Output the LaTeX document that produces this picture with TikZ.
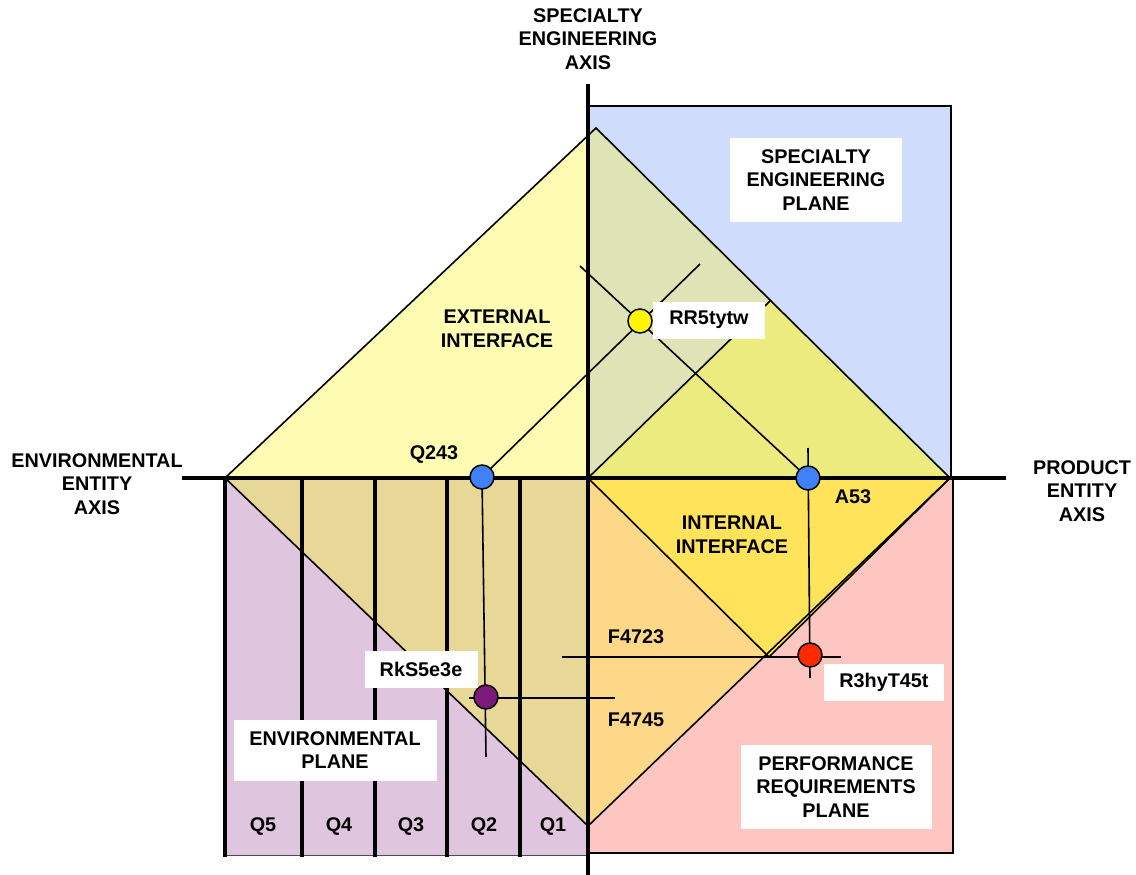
\documentclass[tikz,border=0pt]{standalone}
\usepackage{fontspec}
\setmainfont{Liberation Sans}
\definecolor{planeblue}{HTML}{CFDCFC}
\definecolor{planepink}{HTML}{FDC6C0}
\definecolor{planepurple}{HTML}{DFC6DE}
\definecolor{extlight}{HTML}{FEFBB2}
\definecolor{extgreen}{HTML}{DFE4B7}
\definecolor{exttan}{HTML}{E8D898}
\definecolor{extorange}{HTML}{FDD888}
\definecolor{intupper}{HTML}{EBEB7F}
\definecolor{intlower}{HTML}{FEE35B}
\definecolor{dotyellow}{HTML}{FFF700}
\definecolor{dotblue}{HTML}{4080F8}
\definecolor{dotred}{HTML}{FF2A00}
\definecolor{dotpurple}{HTML}{7B1A7A}
\begin{document}
\begin{tikzpicture}[x=1pt,y=-1pt,
  lbl/.style={font=\bfseries\fontsize{19.8}{23.5}\selectfont, align=center, inner sep=0pt},
  whitebox/.style={lbl, fill=white, minimum width=#1},
  axisline/.style={line width=3.5pt, line cap=butt},
  edge/.style={line width=1.6pt, line join=miter},
  crossline/.style={line width=1.6pt},
  dot/.style={circle, draw=black, line width=1.5pt, minimum size=24pt, inner sep=0pt}]
\useasboundingbox (0,0) rectangle (1136,875);

% corner points of the two interface diamonds
\coordinate (O) at (588,478);
\coordinate (dL) at (225,478);
\coordinate (dT) at (596,128);
\coordinate (dR) at (950,478);
\coordinate (dB) at (588,826);
\coordinate (iT) at (771,300);
\coordinate (iB) at (769,657);

% the three planes
\fill[planeblue] (588,106) rectangle (951,478);
\draw[line width=1.5pt] (588,106) -- (951,106) -- (951,478);
\fill[planepink] (588,478) rectangle (953,853);
\draw[line width=1.5pt] (953,478) -- (953,853) -- (588,853);
\fill[planepurple] (225,478) rectangle (588,855);
\draw[line width=1pt, black!70] (225,855) -- (588,855);

% external interface diamond, tinted by the plane underneath
\begin{scope}
  \clip (0,0) rectangle (588,478);
  \fill[extlight] (dL) -- (dT) -- (dR) -- (dB) -- cycle;
\end{scope}
\begin{scope}
  \clip (588,0) rectangle (1136,478);
  \fill[extgreen] (dL) -- (dT) -- (dR) -- (dB) -- cycle;
\end{scope}
\begin{scope}
  \clip (0,478) rectangle (588,875);
  \fill[exttan] (dL) -- (dT) -- (dR) -- (dB) -- cycle;
\end{scope}
\begin{scope}
  \clip (588,478) rectangle (1136,875);
  \fill[extorange] (dL) -- (dT) -- (dR) -- (dB) -- cycle;
\end{scope}

% internal interface diamond
\fill[intupper] (O) -- (iT) -- (dR) -- cycle;
\fill[intlower] (O) -- (dR) -- (iB) -- cycle;

\draw[edge] (dL) -- (dT) -- (dR) -- (dB) -- cycle;
\draw[edge] (O) -- (iT);
\draw[edge] (dR) -- (iB) -- (O);

% Q columns
\foreach \qx in {225,302,375,447,520}
  \draw[axisline] (\qx,478) -- (\qx,857);

% axes
\draw[axisline] (588,84) -- (588,875);
\draw[axisline] (182,478) -- (1006,478);

% crosshair lines through the points
\coordinate (cY) at (640,321);
\coordinate (cQ) at (482,477);
\coordinate (cA) at (808,478);
\coordinate (cR) at (810,655);
\coordinate (cP) at (486,697);
\coordinate (ylTop) at (580,266);
\coordinate (yrTop) at (700,264);
\coordinate (aTop) at (808,448);
\coordinate (aBot) at (810,678);
\coordinate (qBot) at (486,757);
\coordinate (rL) at (562,657);
\coordinate (rR) at (841,657);
\coordinate (pL) at (469,698);
\coordinate (pR) at (615,698);

\draw[crossline] (ylTop) -- (cA);
\draw[crossline] (yrTop) -- (cQ);
\draw[crossline] (aTop) -- (aBot);
\draw[crossline] (cQ) -- (qBot);
\draw[crossline] (rL) -- (rR);
\draw[crossline] (pL) -- (pR);

% points
\node[dot, fill=dotyellow] (rr) at (cY) {};
\node[dot, fill=dotblue] (q243) at (cQ) {};
\node[dot, fill=dotblue] (a53) at (cA) {};
\node[dot, fill=dotred] (r3) at (cR) {};
\node[dot, fill=dotpurple] (rks) at (cP) {};

% labelled boxes
\node[whitebox=172pt, minimum height=84pt] (sepbox) at (816,180) {SPECIALTY\\ENGINEERING\\PLANE};
\node[whitebox=112pt, minimum height=37pt] (rrbox) at (709,320) {RR5tytw};
\node[whitebox=113pt, minimum height=37pt] (rksbox) at (421,669) {RkS5e3e};
\node[whitebox=120pt, minimum height=37pt] (r3box) at (884,682) {R3hyT45t};
\node[whitebox=203pt, minimum height=61pt] (envbox) at (335,750) {ENVIRONMENTAL\\PLANE};
\node[whitebox=191pt, minimum height=84pt] (perfbox) at (836,787) {PERFORMANCE\\REQUIREMENTS\\PLANE};

% plain labels
\node[lbl] (seaxis) at (588,39) {SPECIALTY\\ENGINEERING\\AXIS};
\node[lbl] (envaxis) at (97,484) {ENVIRONMENTAL\\ENTITY\\AXIS};
\node[lbl] (prodaxis) at (1082,491) {PRODUCT\\ENTITY\\AXIS};
\node[lbl] (ext) at (497,329) {EXTERNAL\\INTERFACE};
\node[lbl] (int) at (732,535) {INTERNAL\\INTERFACE};
\node[lbl] (q243lbl) at (434,455) {Q243};
\node[lbl] (a53lbl) at (853,497) {A53};
\node[lbl] (f4723) at (636,637) {F4723};
\node[lbl] (f4745) at (636,720) {F4745};
\node[lbl] (q5) at (263,827) {Q5};
\node[lbl] (q4) at (339,827) {Q4};
\node[lbl] (q3) at (411,827) {Q3};
\node[lbl] (q2) at (484,827) {Q2};
\node[lbl] (q1) at (553,827) {Q1};
\end{tikzpicture}
\end{document}
